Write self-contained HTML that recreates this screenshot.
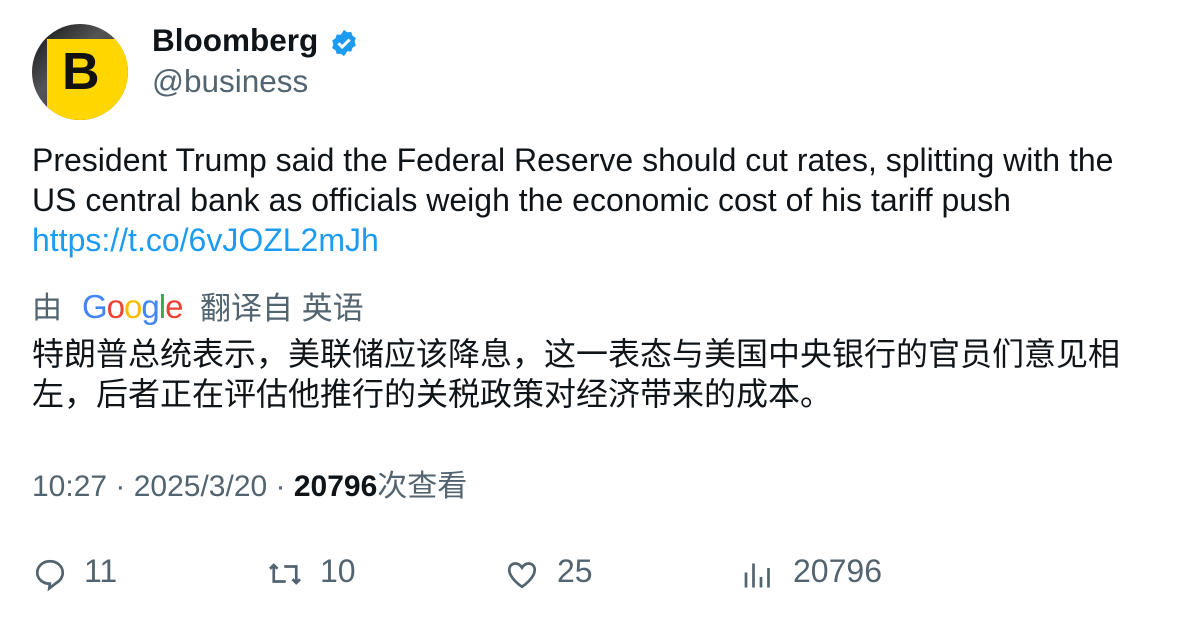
<!DOCTYPE html>
<html><head><meta charset="utf-8"><style>
body{margin:0;width:1196px;height:618px;background:#fff;font-family:"Liberation Sans","Noto Sans CJK SC",sans-serif;color:#0f1419;position:relative;overflow:hidden}
.a{position:absolute;white-space:nowrap}
.g{color:#536471}
</style></head><body>
<div class="a" style="left:32px;top:24px;width:96px;height:96px;border-radius:50%;overflow:hidden;background:linear-gradient(135deg,#111 0%,#555 40%,#222 100%)">
<div style="position:absolute;left:15px;top:15px;width:90px;height:90px;background:#ffd600"></div>
<div style="position:absolute;left:30px;top:18px;font:bold 52px 'Liberation Sans',sans-serif;color:#111">B</div>
</div>
<div class="a" style="left:152px;top:22px;font-weight:bold;font-size:31.5px">Bloomberg</div>
<svg class="a" style="left:329px;top:28px" width="30" height="30" viewBox="0 0 24 24"><path fill="#1d9bf0" d="M12 1.5l2.6 1.9 3.2-.2 1 3 2.7 1.8-1 3 1 3-2.7 1.8-1 3-3.2-.2L12 22.5l-2.6-1.9-3.2.2-1-3-2.7-1.8 1-3-1-3 2.7-1.8 1-3 3.2.2z"/><path d="M7.5 12.2l3 3 6-6" stroke="#fff" stroke-width="2.4" fill="none"/></svg>
<div class="a g" style="left:152px;top:63px;font-size:31.5px">@business</div>
<div class="a" style="left:32px;top:140px;font-size:32px;line-height:40px">President Trump said the Federal Reserve should cut rates, splitting with the<br>US central bank as officials weigh the economic cost of his tariff push<br><span style="color:#1d9bf0">https://t.co/6vJOZL2mJh</span></div>
<div class="a g" style="left:32px;top:283px;font-size:30px">由</div>
<div class="a" style="left:82px;top:288px;font-size:33px;letter-spacing:-1px"><span style="color:#4285f4">G</span><span style="color:#ea4335">o</span><span style="color:#fbbc05">o</span><span style="color:#4285f4">g</span><span style="color:#34a853">l</span><span style="color:#ea4335">e</span></div>
<div class="a g" style="left:200px;top:283px;font-size:31px">翻译自 英语</div>
<div class="a" style="left:32px;top:334px;font-size:32px;line-height:40px">特朗普总统表示，美联储应该降息，这一表态与美国中央银行的官员们意见相<br>左，后者正在评估他推行的关税政策对经济带来的成本。</div>
<div class="a g" style="left:32px;top:461px;font-size:30px">10:27 · 2025/3/20 · <b style="color:#0f1419">20796</b>次查看</div>
<svg class="a" style="left:32px;top:556px" width="36" height="36" viewBox="0 0 24 24"><path d="M12 3.5c-4.8 0-8.5 3.4-8.5 7.6 0 4.2 3.7 7.4 8.4 7.4l-.4 3.1 4.6-3.6c2.6-1.3 4.4-4 4.4-6.9 0-4.2-3.7-7.6-8.5-7.6z" fill="none" stroke="#536471" stroke-width="1.8"/></svg>
<div class="a g" style="left:84px;top:553px;font-size:32px">11</div>
<svg class="a" style="left:267px;top:556px" width="36" height="36" viewBox="0 0 24 24"><path d="M4.5 6v11h8M2 8.5L4.5 6 7 8.5M19.5 18V7h-8M22 15.5L19.5 18 17 15.5" fill="none" stroke="#536471" stroke-width="1.8"/></svg>
<div class="a g" style="left:320px;top:553px;font-size:32px">10</div>
<svg class="a" style="left:504px;top:556px" width="36" height="36" viewBox="0 0 24 24"><path d="M12 20.5S3.5 15 3.5 9.2C3.5 6.6 5.4 5 7.6 5c2 0 3.4 1.2 4.4 2.8C13 6.2 14.4 5 16.4 5c2.2 0 4.1 1.6 4.1 4.2 0 5.8-8.5 11.3-8.5 11.3z" fill="none" stroke="#536471" stroke-width="1.8"/></svg>
<div class="a g" style="left:557px;top:553px;font-size:32px">25</div>
<svg class="a" style="left:740px;top:556px" width="36" height="36" viewBox="0 0 24 24"><path d="M4 21V11M9 21V5M14 21v-7M19 21V8" stroke="#536471" stroke-width="1.8"/></svg>
<div class="a g" style="left:793px;top:553px;font-size:32px">20796</div>
</body></html>
